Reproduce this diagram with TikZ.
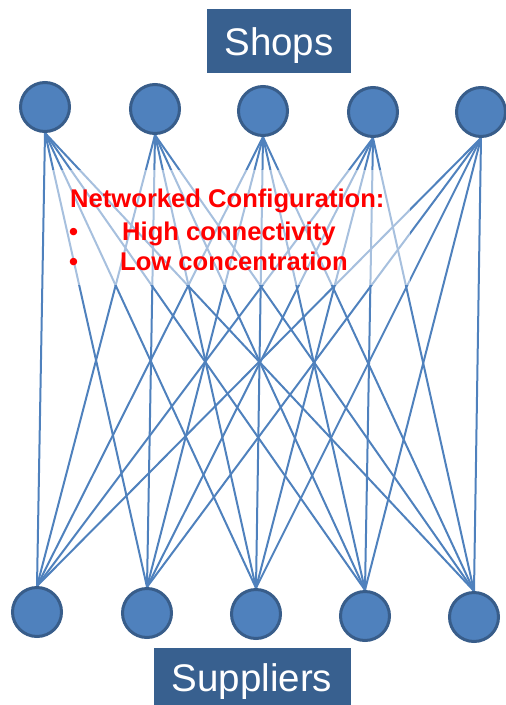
\documentclass[tikz,border=0pt]{standalone}
\usepackage{fontspec}
\setmainfont{Liberation Sans}
\usetikzlibrary{backgrounds}
\definecolor{boxblue}{RGB}{56,96,143}
\definecolor{nodefill}{RGB}{79,129,189}
\definecolor{nodeline}{RGB}{56,93,138}
\definecolor{linkblue}{RGB}{79,129,189}
\tikzset{
  hub/.style={circle,draw=nodeline,line width=3pt,fill=nodefill,minimum size=49pt,inner sep=0pt},
  link/.style={draw=linkblue,line width=2pt},
  redtxt/.style={text=red,font=\bfseries\fontsize{25.6}{28}\selectfont,inner sep=0pt,anchor=base west},
}
\begin{document}
\begin{tikzpicture}[x=1pt,y=-1pt]
\useasboundingbox (0,0) rectangle (506,705);
% title boxes
\fill[boxblue] (207,9) rectangle (351,73);
\node[text=white,font=\fontsize{38.5}{40}\selectfont,inner sep=0pt,anchor=base] (shops) at (279,55) {Shops};
\fill[boxblue] (154,648) rectangle (351,705);
\node[text=white,font=\fontsize{38.5}{40}\selectfont,inner sep=0pt,anchor=base] (suppliers) at (252,691) {Suppliers};
% nodes
\node[hub] (t1) at (45,107) {};
\node[hub] (t2) at (155,109) {};
\node[hub] (t3) at (263,111) {};
\node[hub] (t4) at (373,112) {};
\node[hub] (t5) at (481,112) {};
\node[hub] (b1) at (37,612) {};
\node[hub] (b2) at (147,613) {};
\node[hub] (b3) at (256,614) {};
\node[hub] (b4) at (365,616) {};
\node[hub] (b5) at (474,617) {};
\begin{pgfonlayer}{background}
\foreach \i in {1,...,5}{
  \foreach \j in {1,...,5}{
    \draw[link] (t\i.south) -- (b\j.north);
  }
}
\fill[white,opacity=0.5] (48,170) rectangle (410,285);
\end{pgfonlayer}
% text
\node[redtxt] (l1) at (70,207) {Networked Configuration:};
\node[redtxt] (bu1) at (69,240) {•};
\node[redtxt] (l2) at (122,240) {High connectivity};
\node[redtxt] (bu2) at (69,270) {•};
\node[redtxt] (l3) at (120,270) {Low concentration};
\end{tikzpicture}
\end{document}
